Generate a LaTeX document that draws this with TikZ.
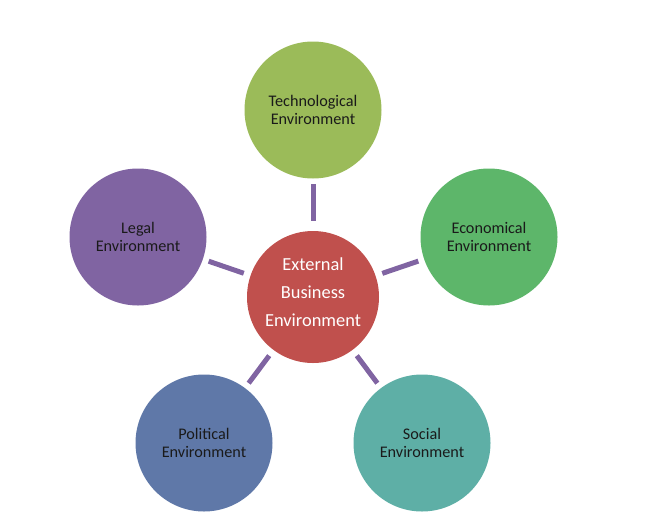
\documentclass[tikz,border=0pt]{standalone}
\usepackage{fontspec}
\setmainfont{Carlito}
\definecolor{cRed}{HTML}{C0504D}
\definecolor{cTech}{HTML}{9BBB59}
\definecolor{cEco}{HTML}{5DB66A}
\definecolor{cSoc}{HTML}{5EAFA6}
\definecolor{cPol}{HTML}{5F78A8}
\definecolor{cLeg}{HTML}{8064A2}
\definecolor{cLine}{HTML}{8064A2}
\definecolor{cTxt}{HTML}{1A1A1A}
\tikzset{
  outer/.style={circle, minimum size=137pt, inner sep=0pt, align=center,
    text=cTxt, font=\fontsize{16.2}{17.9}\selectfont},
  hub/.style={circle, minimum size=132pt, inner sep=0pt, align=center,
    text=white, font=\fontsize{18.4}{28}\selectfont, fill=cRed, text depth=9pt},
  conn/.style={draw=cLine, line width=5pt, shorten <=7pt, shorten >=6pt}
}
\begin{document}
\begin{tikzpicture}[x=1pt,y=-1pt]
\useasboundingbox (0,0) rectangle (650,517);
\node[hub] (c) at (313,297) {External\\Business\\Environment};
\node[outer, fill=cTech] (t) at (313,110) {Technological\\Environment};
\node[outer, fill=cEco] (e) at (489,237) {Economical\\Environment};
\node[outer, fill=cSoc] (s) at (422,443) {Social\\Environment};
\node[outer, fill=cPol] (p) at (204,443) {Political\\Environment};
\node[outer, fill=cLeg] (l) at (138,237) {Legal\\Environment};
\draw[conn, shorten <=10pt, shorten >=5pt] (c) -- (t);
\draw[conn] (c) -- (e);
\draw[conn] (c) -- (s);
\draw[conn] (c) -- (p);
\draw[conn] (c) -- (l);
\end{tikzpicture}
\end{document}
